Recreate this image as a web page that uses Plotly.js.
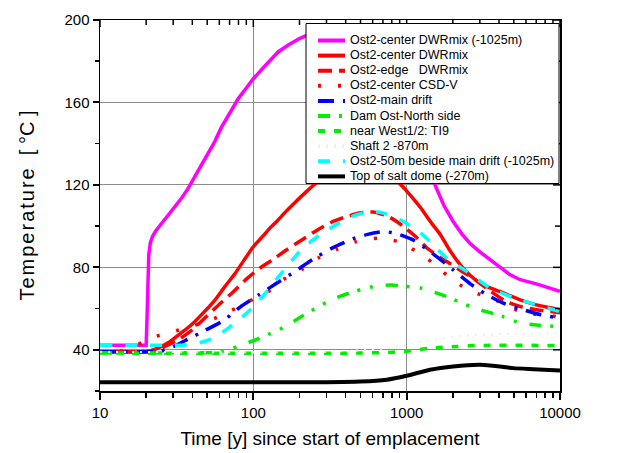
<!DOCTYPE html>
<html><head><meta charset="utf-8">
<script src="https://cdn.plot.ly/plotly-3.0.1.min.js"></script>
<style>html,body{margin:0;padding:0;background:#fff;} #chart{width:625px;height:453px;}</style>
</head><body><div id="chart"></div>
<script>
// ---------------- data ----------------
const seriesNames = [
  'Ost2-center DWRmix (-1025m)',
  'Ost2-center DWRmix',
  'Ost2-edge\u00A0\u00A0\u00A0DWRmix',
  'Ost2-center CSD-V',
  'Ost2-main drift',
  'Dam Ost-North side',
  'near West1/2: TI9',
  'Shaft 2 -870m',
  'Ost2-50m beside main drift (-1025m)',
  'Top of salt dome (-270m)'
];

const tMagenta = [10, 15, 20, 20.25, 20.5, 20.8, 21.3, 22, 23, 24.5, 26, 28, 31, 34, 37, 40, 45, 50, 56, 62, 70, 80, 90, 100, 115, 130, 145, 170, 200, 230, 270, 330, 400, 500, 600, 750, 900, 1100, 1300, 1530, 1750, 2000, 2300, 2600, 3000, 3500, 4000, 4700, 5500, 7000, 8500, 10000];
const TMagenta = [42.2, 42.2, 42.2, 55, 75, 86, 92, 95, 97.5, 100, 102.5, 105.5, 109.5, 113.5, 117.5, 122, 128.5, 134.5, 141, 148, 155, 162, 167, 171.5, 176.5, 181, 184.5, 188, 191, 193, 194.5, 195.5, 196, 195.5, 193.5, 187, 176, 158, 138, 120, 110, 102.5, 96, 91.5, 87.5, 84, 80.5, 76.5, 74, 72, 70, 68.3];

const tRedSolid = [10, 15, 20, 22, 25, 28, 31, 35, 40, 48, 56, 65, 76, 87, 100, 115, 130, 145, 165, 187, 220, 253, 290, 330, 400, 460, 550, 650, 750, 840, 907, 1000, 1100, 1230, 1450, 1660, 1900, 2240, 2600, 3010, 3500, 4050, 4700, 5500, 7000, 8500, 10000];
const TRedSolid = [39, 39, 39, 39.8, 41.5, 43.5, 46, 49, 52.5, 58.5, 64, 70.5, 77, 83.5, 90, 95, 99.5, 103, 107.5, 111.5, 116.5, 120.5, 123.5, 126.5, 129, 130, 129.5, 127.5, 125, 122.5, 120.5, 117, 113.5, 109, 101.5, 95.8, 88.5, 81.2, 76, 72.3, 70, 68.3, 66.3, 64.2, 61.8, 60.5, 59.4];

const tRedDash = [10, 15, 20, 23, 25.4, 30, 35, 40, 50, 61, 75, 88, 110, 133, 165, 207, 260, 322, 400, 500, 600, 743, 870, 1000, 1180, 1350, 1600, 1900, 2300, 2720, 3500, 4470, 5500, 7030, 10000];
const TRedDash = [39, 39, 39, 40, 41, 43.5, 46.5, 49.7, 56.5, 62.6, 68.5, 73.6, 79.5, 83.6, 88.5, 93.3, 98, 101.8, 104.5, 106.5, 106.8, 105, 102, 98.5, 94, 89.5, 85.5, 82, 78, 74.8, 68.5, 63.4, 61, 59.4, 58];

const tRedDot = [10, 14, 17, 20, 22, 29, 40, 53, 70, 93, 130, 157, 207, 265, 353, 470, 652, 880, 1160, 1490, 1870, 2400, 3200, 4250, 5770, 8200, 10000];
const TRedDot = [39, 39.5, 42, 44.5, 46, 48.5, 51.5, 54.5, 58.6, 63.4, 69, 74, 79, 84.5, 88.8, 92.5, 94.1, 92.5, 87.7, 82, 75.6, 70, 66, 62.7, 57.8, 57, 55.5];

const tBlue = [10, 15, 20, 25, 30, 37.6, 47, 64, 82, 109, 140, 187, 246, 326, 446, 557, 700, 837, 1100, 1400, 2010, 2600, 3330, 4300, 5770, 7500, 10000];
const TBlue = [39, 39, 39, 39.3, 41.5, 45.2, 48.9, 54.2, 60.7, 66.7, 72, 78, 84, 89.3, 93.8, 96, 97.3, 96.6, 93.3, 88, 78.8, 72, 66.7, 62.5, 59.4, 57, 55.4];

const tGreenDashDot = [10, 30, 50, 60, 70, 80, 101, 130, 161, 206, 260, 322, 422, 550, 667, 800, 905, 1230, 1500, 1900, 2400, 3010, 4250, 5500, 7000, 10000];
const TGreenDashDot = [38.5, 38.5, 38.6, 39, 40.2, 41.8, 44.5, 48, 51.2, 56.1, 60.5, 64.2, 67.5, 70, 71.2, 71.4, 71, 70, 68, 65.3, 62, 59.4, 56.1, 53, 52, 51.2];

const tGreenDash = [10, 500, 800, 1000, 1420, 2120, 3000, 10000];
const TGreenDash = [38.4, 38.4, 38.8, 39.2, 40.8, 41.6, 42.1, 42.1];

const tShaft = [10, 300, 700, 1160, 2240, 4500, 10000];
const TShaft = [39, 39, 40.5, 43.5, 46.7, 47.6, 48];

const tCyan = [10, 20, 30, 36, 42, 50, 60, 70, 85, 102, 123, 162, 213, 298, 437, 527, 652, 800, 950, 1150, 1350, 1600, 1830, 2466, 3500, 4950, 7450, 10000];
const TCyan = [42.2, 42.2, 42.2, 42.3, 43, 44.5, 47.5, 51, 56, 61.5, 68.5, 79.6, 89.7, 97.8, 104.6, 106.5, 106.8, 105, 102.2, 98.5, 94.1, 88.5, 84.4, 78, 70, 65.3, 61.3, 58.5];

const tBlack = [10, 300, 500, 743, 1000, 1420, 2010, 3010, 4050, 4950, 6700, 10000];
const TBlack = [24.3, 24.3, 24.6, 25.5, 27.4, 30.3, 31.9, 32.7, 31.9, 31.1, 30.6, 30];

// axis ticks
const xTickVals = [10, 100, 1000, 10000];
const xTickText = ['10', '100', '1000', '10000'];
const yTickVals = [40, 80, 120, 160, 200];
const yTickText = ['40', '80', '120', '160', '200'];
const yMinorVals = [60, 100, 140, 180];
const xMinorVals = [];
[10, 100, 1000].forEach(d => { for (let k = 2; k <= 9; k++) xMinorVals.push(k * d); });
const X_RANGE = [1, 4], Y_RANGE = [20, 200];

// ---------------- styles ----------------
const styles = [
  {color: '#ff00ff', dash: 'solid', width: 3.5},
  {color: '#ff0000', dash: 'solid', width: 3.5},
  {color: '#ff0000', dash: '14px,7px', width: 3.5},
  {color: '#ff0000', dash: '3px,17px', width: 3.5},
  {color: '#0000ff', dash: '16px,9px,3px,9px', width: 3.5},
  {color: '#00ee00', dash: '12px,9px,3px,10px,3px,13px', width: 3.5},
  {color: '#00ee00', dash: '7px,9px', width: 3.5},
  {color: '#e4f6e4', dash: '2px,6px', width: 2},
  {color: '#00ffff', dash: '12px,13px', width: 3.5},
  {color: '#000000', dash: 'solid', width: 4}
];
const xs = [tMagenta, tRedSolid, tRedDash, tRedDot, tBlue, tGreenDashDot, tGreenDash, tShaft, tCyan, tBlack];
const ys = [TMagenta, TRedSolid, TRedDash, TRedDot, TBlue, TGreenDashDot, TGreenDash, TShaft, TCyan, TBlack];

const traces = seriesNames.map((n, i) => ({
  type: 'scatter', mode: 'lines', name: n, x: xs[i], y: ys[i],
  line: {color: styles[i].color, width: styles[i].width, dash: styles[i].dash,
         shape: i === 0 ? 'linear' : 'spline', smoothing: 0.6},
  showlegend: false, hoverinfo: 'skip'
}));

const PL = 100, PT = 20, PW = 460, PH = 371;
const px2x = p => (p - PL) / PW;
const py2y = p => 1 - (p - PT) / PH;
const FONT = 'Arial, "Liberation Sans", sans-serif';

// ---------------- inward tick marks on the top and right frame (paper shapes) ----------------
const shapes = [];
const xFrac = v => (Math.log10(v) - X_RANGE[0]) / (X_RANGE[1] - X_RANGE[0]);
const yFrac = v => (v - Y_RANGE[0]) / (Y_RANGE[1] - Y_RANGE[0]);
function tickTop(v, len) {
  const f = xFrac(v);
  shapes.push({type: 'line', xref: 'paper', yref: 'paper', layer: 'above',
    x0: f, x1: f, y0: 1, y1: 1 - len / PH, line: {color: '#000', width: 1.5}});
}
function tickRight(v, len) {
  const f = yFrac(v);
  shapes.push({type: 'line', xref: 'paper', yref: 'paper', layer: 'above',
    y0: f, y1: f, x0: 1, x1: 1 - len / PW, line: {color: '#000', width: 1.5}});
}
xTickVals.forEach(v => tickTop(v, 7));
xMinorVals.forEach(v => tickTop(v, 5));
yTickVals.forEach(v => tickRight(v, 7));
yMinorVals.forEach(v => tickRight(v, 5));

// ---------------- custom legend (pixel geometry -> paper) ----------------
shapes.push({
  type: 'rect', xref: 'paper', yref: 'paper', layer: 'above',
  x0: px2x(306), x1: px2x(559), y0: py2y(183.5), y1: py2y(23.5),
  fillcolor: '#ffffff', line: {color: '#000', width: 1}
});
const annotations = [];
seriesNames.forEach((n, i) => {
  const ry = 40 + i * 15.1;
  shapes.push({
    type: 'line', xref: 'paper', yref: 'paper', layer: 'above',
    x0: px2x(318), x1: px2x(345), y0: py2y(ry + 0.5), y1: py2y(ry + 0.5),
    line: {color: styles[i].color, width: 4, dash: styles[i].dash}
  });
  annotations.push({
    xref: 'paper', yref: 'paper', x: px2x(348), y: py2y(ry), xanchor: 'left', yanchor: 'middle',
    text: n, showarrow: false, font: {family: FONT, size: 12.5, color: '#000'}
  });
});

const layout = {
  width: 625, height: 453,
  margin: {l: PL, r: 625 - PL - PW, t: PT, b: 453 - PT - PH},
  paper_bgcolor: '#fff', plot_bgcolor: '#fff',
  font: {family: FONT, color: '#000'},
  showlegend: false,
  xaxis: {
    type: 'log', range: X_RANGE, tickmode: 'linear', tick0: 0, dtick: 1, tickformat: 'd',
    showline: true, mirror: true, linecolor: '#000', linewidth: 1.5, zeroline: false,
    ticks: 'outside', ticklen: 7, tickwidth: 2, tickcolor: '#000',
    minor: {dtick: 'D1', ticks: 'outside', ticklen: 5, tickwidth: 1.5, tickcolor: '#000'},
    tickfont: {size: 15, family: FONT},
    showgrid: true, gridcolor: '#8c8c8c', gridwidth: 1,
    title: {text: 'Time [y] since start of emplacement', font: {size: 19, family: FONT}, standoff: 12}
  },
  yaxis: {
    range: Y_RANGE, tickmode: 'linear', tick0: 0, dtick: 40,
    showline: true, mirror: true, linecolor: '#000', linewidth: 1.5, zeroline: false,
    ticks: 'outside', ticklen: 6, tickwidth: 2, tickcolor: '#000',
    minor: {dtick: 20, tick0: 0, ticks: 'outside', ticklen: 4, tickwidth: 1.5, tickcolor: '#000'},
    tickfont: {size: 15, family: FONT},
    showgrid: true, gridcolor: '#8c8c8c', gridwidth: 1,
    title: {text: '<span style="letter-spacing:2px">Temperature</span>\u00A0\u00A0[ °C ]', font: {size: 20, family: FONT}, standoff: 24}
  },
  shapes: shapes,
  annotations: annotations
};

Plotly.newPlot('chart', traces, layout, {displayModeBar: false, staticPlot: true});
</script>
</body></html>
